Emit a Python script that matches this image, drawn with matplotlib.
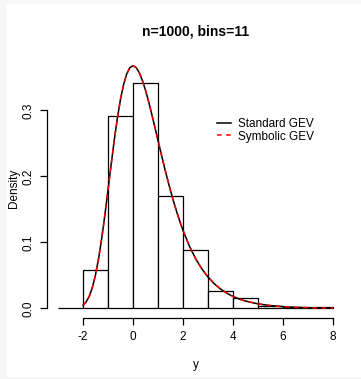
import numpy as np
import matplotlib.pyplot as plt
from matplotlib.patches import Rectangle

plt.rcParams['font.family'] = ['Liberation Sans', 'DejaVu Sans']
plt.rcParams['axes.unicode_minus'] = False

# histograma: bordes de clase y densidad
bordes = [-3, -2, -1, 0, 1, 2, 3, 4, 5, 6, 7, 8]
densidad = [0.0, 0.058, 0.292, 0.341, 0.170, 0.089, 0.027, 0.015, 0.004, 0.002, 0.002]

# curva GEV leida punto a punto
curva_x = [-2.0, -1.875, -1.75, -1.625, -1.5, -1.375, -1.25, -1.125, -1.0, -0.875,
           -0.75, -0.625, -0.5, -0.375, -0.25, -0.125, 0.0, 0.125, 0.25, 0.375,
           0.5, 0.625, 0.75, 0.875, 1.0, 1.125, 1.25, 1.375, 1.5, 1.625, 1.75,
           1.875, 2.0, 2.25, 2.5, 2.75, 3.0, 3.25, 3.5, 3.75, 4.0, 4.25, 4.5,
           5.0, 5.5, 6.0, 6.5, 7.0, 7.5, 8.0]
curva_y = [0.0046, 0.0096, 0.0182, 0.0316, 0.0507, 0.0758, 0.1064, 0.1416, 0.1794,
           0.2178, 0.2549, 0.2885, 0.3170, 0.3396, 0.3556, 0.3649, 0.3679, 0.3651,
           0.3575, 0.3456, 0.3307, 0.3134, 0.2945, 0.2748, 0.2546, 0.2347, 0.2151,
           0.1963, 0.1785, 0.1617, 0.1461, 0.1316, 0.1182, 0.0949, 0.0756, 0.0600,
           0.0474, 0.0373, 0.0293, 0.0230, 0.0180, 0.0141, 0.0110, 0.0067, 0.0041,
           0.0025, 0.0015, 0.0009, 0.00055, 0.0003]

fig = plt.figure(figsize=(3.61, 3.79), dpi=100, facecolor='#f7f7f7')
# fondo blanco con el borde gris del pantallazo
fig.patches.append(Rectangle((6 / 361, 2 / 379), 1, 1 - 6 / 379, transform=fig.transFigure,
                             facecolor='white', edgecolor='none', zorder=-10))

ax = fig.add_axes([47 / 361, 61 / 379, 297 / 361, 260 / 379])
ax.set_facecolor('white')

anchos = np.diff(bordes)
ax.bar(bordes[:-1], densidad, width=anchos, align='edge',
       facecolor='white', edgecolor='black', linewidth=0.9)

ax.plot(curva_x, curva_y, color='black', linewidth=1.1, label='Standard GEV')
ax.plot(curva_x, curva_y, color='red', linewidth=1.1, linestyle=(0, (3, 3)), label='Symbolic GEV')

ax.set_xlim(-3.44, 8.44)
ax.set_ylim(-0.0147, 0.3796)

for lado in ['top', 'right']:
    ax.spines[lado].set_visible(False)
ax.spines['left'].set_bounds(0, 0.3)
ax.spines['bottom'].set_bounds(-2, 8)
ax.spines['left'].set_linewidth(0.9)
ax.spines['bottom'].set_linewidth(0.9)

ax.set_xticks([-2, 0, 2, 4, 6, 8])
ax.set_yticks([0.0, 0.1, 0.2, 0.3])
ax.set_yticklabels(['0.0', '0.1', '0.2', '0.3'], rotation=90, va='center')
ax.tick_params(length=5, width=0.9, labelsize=8.5, pad=4)

ax.set_xlabel('y', fontsize=8.5, labelpad=12)
ax.set_ylabel('Density', fontsize=8.5, labelpad=2)
ax.set_title('n=1000, bins=11', fontsize=10, fontweight='bold', pad=16)

ax.legend(loc='upper left', bbox_to_anchor=(0.535, 0.81), frameon=False, fontsize=8.5,
          handlelength=1.2, handletextpad=0.6, labelspacing=0.05)

fig.savefig('out.png', dpi=100)
